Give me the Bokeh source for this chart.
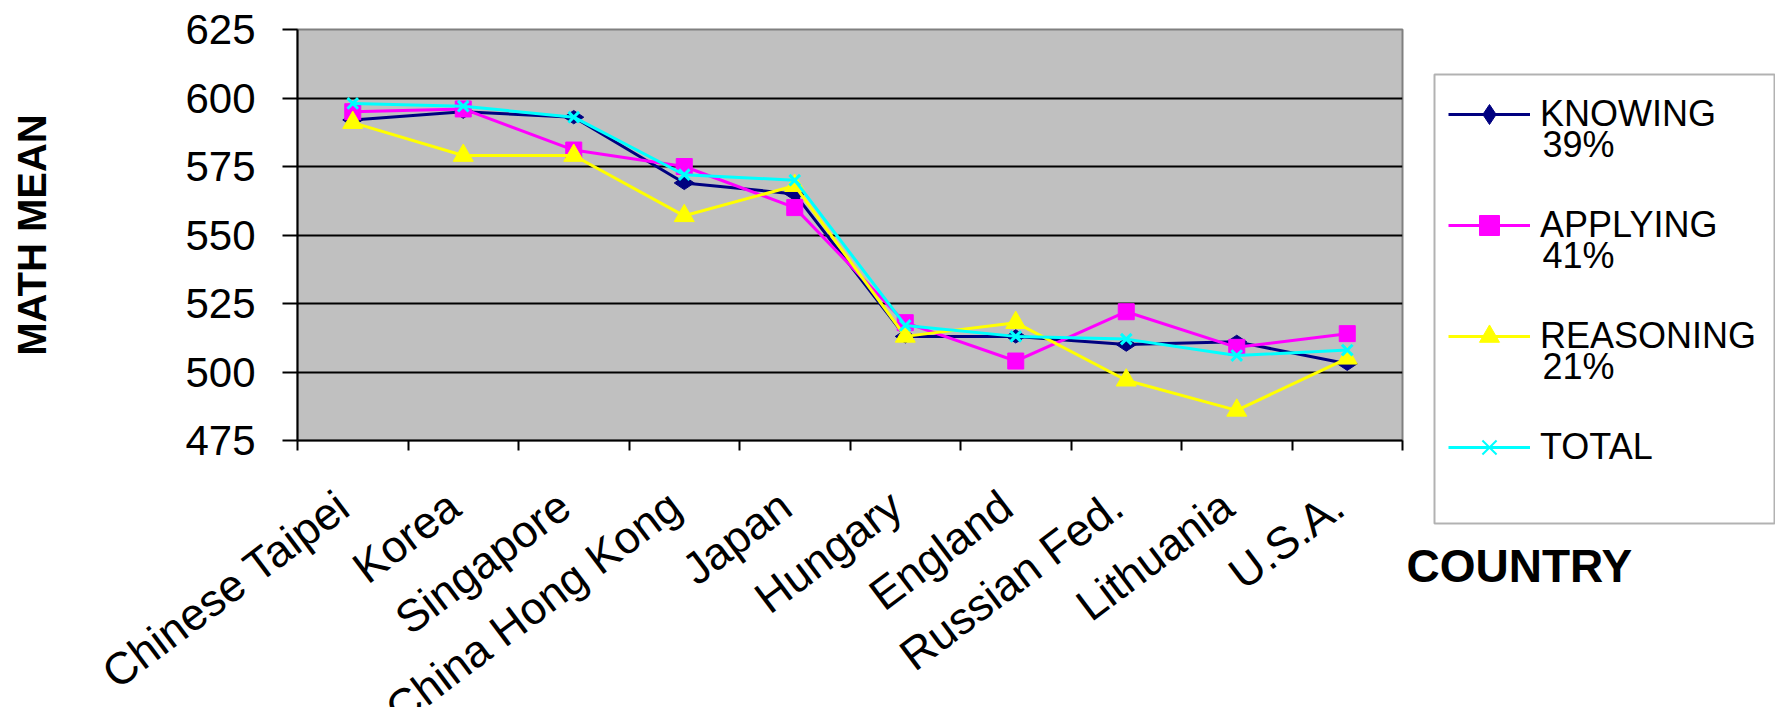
import math
import numpy as np
from bokeh.plotting import figure
from bokeh.layouts import row, column
from bokeh.models import (Range1d, FixedTicker, Legend, LegendItem, Label,
                          BoxAnnotation)
from bokeh.core.properties import value
from bokeh.embed import file_html
from bokeh.resources import INLINE

# TIMSS mathematics means by cognitive domain
countries = ["Chinese Taipei", "Korea", "Singapore", "China Hong Kong", "Japan",
             "Hungary", "England", "Russian Fed.", "Lithuania", "U.S.A."]
knowing = [592, 595, 593, 569, 565, 513, 513, 510, 511, 503]
applying = [595, 596, 581, 575, 560, 518, 504, 522, 509, 514]
reasoning = [591, 579, 579, 557, 568, 513, 518, 497, 486, 505]
total = [598, 597, 593, 572, 570, 517, 513, 512, 506, 508]
series_names = ["KNOWING", "APPLYING", "REASONING", "TOTAL"]
series_weights = ["39%", "41%", "21%", ""]
y_ticks = [475, 500, 525, 550, 575, 600, 625]

FONT = "Liberation Sans"

# page geometry (pixels)
W, H = 1775, 707
FRAME_L, FRAME_R, FRAME_T, FRAME_B = 297, 1402, 29, 440
MAIN_W, MAIN_H = 1404, 464
SIDE_W = W - MAIN_W
NAMES_H = H - MAIN_H

n = len(countries)
xpos = np.arange(n) + 0.5          # category centres on a 0..n axis
bounds = list(range(n + 1))        # category boundaries carry the ticks
px_per_cat = (FRAME_R - FRAME_L) / n

# ---------------------------------------------------------------- main chart
main = figure(width=MAIN_W, height=MAIN_H,
              x_range=Range1d(0, n), y_range=Range1d(y_ticks[0], y_ticks[-1]),
              output_backend="svg", toolbar_location=None,
              min_border_left=FRAME_L, min_border_right=MAIN_W - FRAME_R,
              min_border_top=FRAME_T, min_border_bottom=MAIN_H - FRAME_B,
              background_fill_color="#C0C0C0", border_fill_color="white",
              outline_line_color="#808080", outline_line_width=2)

yax = main.yaxis[0]
yax.ticker = FixedTicker(ticks=y_ticks)
yax.major_tick_out = 15
yax.major_tick_in = 0
yax.minor_tick_out = 0
yax.minor_tick_in = 0
yax.axis_line_width = 2
yax.major_tick_line_width = 2
yax.major_label_standoff = 27
yax.major_label_text_font = FONT
yax.major_label_text_font_size = "42px"
yax.major_label_text_color = "black"
yax.axis_label = "MATH MEAN"
yax.axis_label_text_font = FONT
yax.axis_label_text_font_size = "40px"
yax.axis_label_text_font_style = "bold"
yax.axis_label_text_color = "black"
yax.axis_label_standoff = 128

xax = main.xaxis[0]
xax.ticker = FixedTicker(ticks=bounds)
xax.major_label_overrides = {b: "" for b in bounds}
xax.major_label_text_font_size = "0px"
xax.major_label_standoff = 0
xax.major_tick_out = 10
xax.major_tick_in = 0
xax.minor_tick_out = 0
xax.minor_tick_in = 0
xax.axis_line_width = 2
xax.major_tick_line_width = 2

main.xgrid.visible = False
main.ygrid.ticker = FixedTicker(ticks=y_ticks[1:-1])
main.ygrid.grid_line_color = "black"
main.ygrid.grid_line_width = 2

# (values, colour, marker, plot size, legend size, marker angle)
specs = [
    (knowing, "#000080", "diamond", 20, 22, math.pi / 2),
    (applying, "#FF00FF", "square", 16, 14, 0),
    (reasoning, "#FFFF00", "triangle", 20, 20, 0),
    (total, "#00FFFF", "x", 15, 12, 0),
]

for vals, color, marker, size, _, ang in specs:
    main.line(xpos, vals, line_color=color, line_width=3)
    main.scatter(xpos, vals, marker=marker, size=size, angle=ang,
                 fill_color=color, line_color=color,
                 line_width=3 if marker == "x" else 1)

# ------------------------------------------------------- country names strip
LABEL_SHIFT = 9        # names end slightly left of the category centre
LABEL_BASE = 500       # page y of the end of each rotated name
x0 = (LABEL_SHIFT - FRAME_L) / px_per_cat
names = figure(width=MAIN_W, height=NAMES_H,
               x_range=Range1d(x0, x0 + MAIN_W / px_per_cat),
               y_range=Range1d(NAMES_H, 0), frame_align=False,
               output_backend="svg", toolbar_location=None, min_border=0,
               x_axis_location=None, y_axis_location=None,
               outline_line_color=None, background_fill_color="white",
               border_fill_color="white")
names.grid.visible = False
names.text(x=xpos, y=np.full(n, LABEL_BASE - MAIN_H), text=countries,
           angle=math.radians(37), text_align="right",
           text_baseline="alphabetic", text_font=value(FONT),
           text_font_size="45px", text_color="black")

# ------------------------------------------------------- legend / axis title
side = figure(width=SIDE_W, height=H,
              x_range=Range1d(0, SIDE_W), y_range=Range1d(H, 0),
              frame_align=False,
              output_backend="svg", toolbar_location=None, min_border=0,
              x_axis_location=None, y_axis_location=None,
              outline_line_color=None, background_fill_color="white",
              border_fill_color="white")
side.grid.visible = False

side.add_layout(BoxAnnotation(left=1434 - MAIN_W, right=1774 - MAIN_W,
                              top=74, bottom=523,
                              fill_color="white", fill_alpha=1,
                              line_color="black", line_width=2))

# legend samples: renderers that carry only the styling, no visible points
items = []
for (vals, color, marker, _, lsize, ang), name in zip(specs, series_names):
    ln = side.line(x=[np.nan], y=[np.nan], line_color=color, line_width=3)
    sc = side.scatter(x=[np.nan], y=[np.nan], marker=marker, size=lsize,
                      angle=ang, fill_color=color, line_color=color,
                      line_width=2 if marker == "x" else 1)
    items.append(LegendItem(label=name, renderers=[ln, sc]))

PAD, GLYPH_W, GLYPH_H, STANDOFF, ITEM_GAP = 10, 82, 50, 10, 61
first_centre = 104
leg_left = 1450 - MAIN_W - PAD + 8
leg_top = first_centre - GLYPH_H / 2 - PAD
leg_h = 2 * PAD + len(items) * GLYPH_H + (len(items) - 1) * ITEM_GAP
legend = Legend(items=items, location=(leg_left, H - (leg_top + leg_h)),
                orientation="vertical", margin=0, padding=PAD,
                spacing=ITEM_GAP, glyph_width=GLYPH_W, glyph_height=GLYPH_H,
                label_height=GLYPH_H, label_standoff=STANDOFF,
                label_text_font=FONT, label_text_font_size="36px",
                label_text_color="black", border_line_color=None,
                background_fill_alpha=0)
side.add_layout(legend)

text_x = 1542 - MAIN_W
for i, w in enumerate(series_weights):
    if w:
        centre = first_centre + i * (GLYPH_H + ITEM_GAP)
        side.add_layout(Label(x=text_x, y=centre + 40, text=w,
                              text_font=FONT, text_font_size="36px",
                              text_baseline="alphabetic", text_color="black"))

side.add_layout(Label(x=2, y=565, text="COUNTRY", text_font=FONT,
                      text_font_size="46px", text_font_style="bold",
                      text_baseline="alphabetic", text_color="black"))

page = row(column(main, names), side)
open("out.html", "w").write(file_html(page, INLINE))
